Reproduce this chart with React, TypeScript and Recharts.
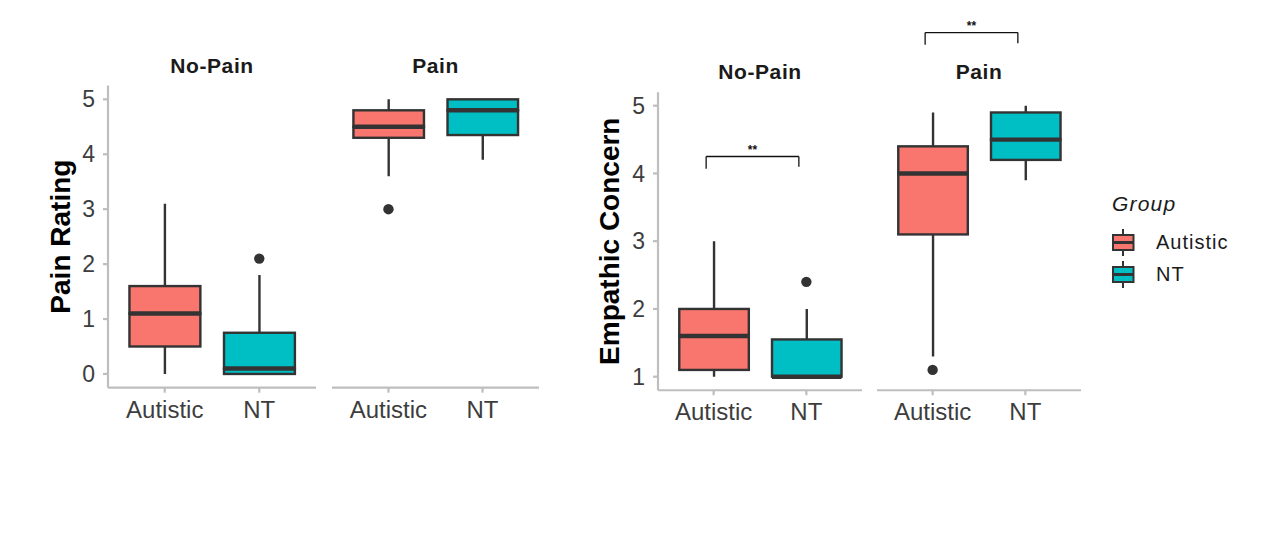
import React from "react";
import {
  ComposedChart,
  Bar,
  Scatter,
  XAxis,
  YAxis,
  Cell,
  ReferenceLine,
} from "recharts";

const groups = ["Autistic", "NT"];
const groupColors = ["#F8766D", "#00BFC4"];
const conditions = ["No-Pain", "Pain"];

// [lower whisker, Q1, median, Q3, upper whisker] per group
const painNoPain = [
  [0, 0.5, 1.1, 1.6, 3.1],
  [0, 0, 0.1, 0.75, 1.8],
];
const painPain = [
  [3.6, 4.3, 4.5, 4.8, 5],
  [3.9, 4.35, 4.8, 5, 5],
];
const painNoPainOutliers = [null, 2.1];
const painPainOutliers = [3.0, null];
const painTicks = [0, 1, 2, 3, 4, 5];

const empathyNoPain = [
  [1, 1.1, 1.6, 2, 3],
  [1, 1, 1, 1.55, 2],
];
const empathyPain = [
  [1.3, 3.1, 4, 4.4, 4.9],
  [3.9, 4.2, 4.5, 4.9, 5],
];
const empathyNoPainOutliers = [null, 2.4];
const empathyPainOutliers = [1.1, null];
const empathyTicks = [1, 2, 3, 4, 5];

// significance brackets: [left leg end, right leg end, bar height]
const empathyNoPainBracket = [4.07, 4.1, 4.25];
const empathyPainBracket = [5.9, 5.92, 6.08];
const bracketLabel = "**";

const FONT = '"Liberation Sans", Arial, sans-serif';
const INK = "#333333";
const AXIS = "#bebebe";
const TICK_INK = "#3d3d3d";
const BRACKET_DX = -7.5;

function toRows(stats: number[][], outliers: (number | null)[]) {
  return groups.map((g, i) => {
    const [lo, q1, med, q3, hi] = stats[i];
    return {
      group: g,
      base: lo,
      lowWhisker: q1 - lo,
      lowerBox: med - q1,
      upperBox: q3 - med,
      highWhisker: hi - q3,
      outlier: outliers[i],
    };
  });
}

const Nothing = () => <g />;

const Whisker = (p: any) => {
  const { x, y, width, height } = p;
  if (!height) return <g />;
  const cx = x + width / 2;
  return (
    <line x1={cx} x2={cx} y1={y} y2={y + height} stroke={INK} strokeWidth={2.4} />
  );
};

const LowerBox = (p: any) => {
  const { x, y, width, height, fill } = p;
  if (!height) return <g />;
  return (
    <rect x={x} y={y} width={width} height={height} fill={fill} stroke={INK} strokeWidth={2.4} />
  );
};

const UpperBox = (p: any) => {
  const { x, y, width, height, fill } = p;
  return (
    <g>
      <rect x={x} y={y} width={width} height={Math.max(height, 0)} fill={fill} stroke={INK} strokeWidth={2.4} />
      <line x1={x} x2={x + width} y1={y + height} y2={y + height} stroke={INK} strokeWidth={4.4} />
    </g>
  );
};

const Outlier = (p: any) => {
  if (p.payload == null || p.payload.outlier == null) return <g />;
  return <circle cx={p.cx} cy={p.cy} r={5.2} fill={INK} />;
};

const bracketLine = (label?: string) => (p: any) => (
  <g>
    <line
      x1={p.x1 + BRACKET_DX}
      y1={p.y1}
      x2={p.x2 + BRACKET_DX}
      y2={p.y2}
      stroke="#111"
      strokeWidth={1.3}
    />
    {label ? (
      <text
        x={(p.x1 + p.x2) / 2 + BRACKET_DX}
        y={p.y1 - 2.5}
        textAnchor="middle"
        fontSize={12}
        fontWeight="bold"
        fontFamily={FONT}
        fill="#111"
      >
        {label}
      </text>
    ) : null}
  </g>
);

type FacetProps = {
  stats: number[][];
  outliers: (number | null)[];
  left: number;
  top: number;
  plotWidth: number;
  plotHeight: number;
  marginTop: number;
  showY: boolean;
  domain: [number, number];
  ticks: number[];
  bracket?: number[];
};

const Y_W = 68;
const X_H = 50;

function Facet({
  stats,
  outliers,
  left,
  top,
  plotWidth,
  plotHeight,
  marginTop,
  showY,
  domain,
  ticks,
  bracket,
}: FacetProps) {
  const rows = toRows(stats, outliers);
  const yW = showY ? Y_W : 0;
  // ggplot discrete expansion: 0.6 units each side of 2 categories
  const pad = 2 * plotWidth * (0.6 / 2.2 - 0.25);
  const boxWidth = (0.75 * plotWidth) / 2.2;
  const axisStyle = { stroke: AXIS, strokeWidth: 2.2 };
  return (
    <div style={{ position: "absolute", left, top }}>
      <ComposedChart
        width={yW + plotWidth}
        height={marginTop + plotHeight + X_H}
        data={rows}
        margin={{ top: marginTop, right: 0, bottom: 0, left: 0 }}
      >
        <XAxis
          dataKey="group"
          type="category"
          padding={{ left: pad, right: pad }}
          height={X_H}
          interval={0}
          tickSize={5}
          tickMargin={8}
          axisLine={axisStyle}
          tickLine={axisStyle}
          tick={{ fontSize: 24, fill: TICK_INK, fontFamily: FONT }}
        />
        {showY ? (
          <YAxis
            type="number"
            width={Y_W}
            domain={domain}
            ticks={ticks}
            allowDataOverflow
            tickSize={5}
            tickMargin={8}
            axisLine={axisStyle}
            tickLine={axisStyle}
            tick={{ fontSize: 23, fill: TICK_INK, fontFamily: FONT }}
          />
        ) : (
          <YAxis type="number" hide domain={domain} ticks={ticks} allowDataOverflow />
        )}
        <Bar dataKey="base" stackId="box" barSize={boxWidth} shape={Nothing} isAnimationActive={false} />
        <Bar dataKey="lowWhisker" stackId="box" barSize={boxWidth} shape={Whisker} isAnimationActive={false} />
        <Bar dataKey="lowerBox" stackId="box" barSize={boxWidth} shape={LowerBox} isAnimationActive={false}>
          {rows.map((r, i) => (
            <Cell key={`lo-${i}`} fill={groupColors[i]} />
          ))}
        </Bar>
        <Bar dataKey="upperBox" stackId="box" barSize={boxWidth} shape={UpperBox} isAnimationActive={false}>
          {rows.map((r, i) => (
            <Cell key={`hi-${i}`} fill={groupColors[i]} />
          ))}
        </Bar>
        <Bar dataKey="highWhisker" stackId="box" barSize={boxWidth} shape={Whisker} isAnimationActive={false} />
        <Scatter dataKey="outlier" shape={Outlier} isAnimationActive={false} />
        {bracket ? (
          <ReferenceLine
            ifOverflow="visible"
            segment={[
              { x: groups[0], y: bracket[0] },
              { x: groups[0], y: bracket[2] },
            ]}
            shape={bracketLine()}
          />
        ) : null}
        {bracket ? (
          <ReferenceLine
            ifOverflow="visible"
            segment={[
              { x: groups[0], y: bracket[2] },
              { x: groups[1], y: bracket[2] },
            ]}
            shape={bracketLine(bracketLabel)}
          />
        ) : null}
        {bracket ? (
          <ReferenceLine
            ifOverflow="visible"
            segment={[
              { x: groups[1], y: bracket[2] },
              { x: groups[1], y: bracket[1] },
            ]}
            shape={bracketLine()}
          />
        ) : null}
      </ComposedChart>
    </div>
  );
}

// layout of the two panels
const leftPanel = { top: 40, marginTop: 45.6, plotHeight: 302.1, facets: [40, 332], widths: [208, 207] };
const rightPanel = { top: 10, marginTop: 82.15, plotHeight: 298.1, facets: [590, 877], widths: [204, 204] };

export default function App() {
  const stripCenters = (panel: typeof leftPanel) =>
    panel.facets.map((l, i) => (i === 0 ? l + Y_W : l) + panel.widths[i] / 2);
  const leftStrips = stripCenters(leftPanel);
  const rightStrips = stripCenters(rightPanel);
  const leftMid = leftPanel.top + leftPanel.marginTop + leftPanel.plotHeight / 2;
  const rightMid = rightPanel.top + rightPanel.marginTop + rightPanel.plotHeight / 2;

  return (
    <div
      style={{
        position: "absolute",
        left: 0,
        top: 0,
        width: 1269,
        height: 541,
        background: "#fff",
        overflow: "hidden",
      }}
    >
      <Facet
        stats={painNoPain}
        outliers={painNoPainOutliers}
        left={leftPanel.facets[0]}
        top={leftPanel.top}
        plotWidth={leftPanel.widths[0]}
        plotHeight={leftPanel.plotHeight}
        marginTop={leftPanel.marginTop}
        showY
        domain={[-0.25, 5.25]}
        ticks={painTicks}
      />
      <Facet
        stats={painPain}
        outliers={painPainOutliers}
        left={leftPanel.facets[1]}
        top={leftPanel.top}
        plotWidth={leftPanel.widths[1]}
        plotHeight={leftPanel.plotHeight}
        marginTop={leftPanel.marginTop}
        showY={false}
        domain={[-0.25, 5.25]}
        ticks={painTicks}
      />
      <Facet
        stats={empathyNoPain}
        outliers={empathyNoPainOutliers}
        left={rightPanel.facets[0]}
        top={rightPanel.top}
        plotWidth={rightPanel.widths[0]}
        plotHeight={rightPanel.plotHeight}
        marginTop={rightPanel.marginTop}
        showY
        domain={[0.8, 5.2]}
        ticks={empathyTicks}
        bracket={empathyNoPainBracket}
      />
      <Facet
        stats={empathyPain}
        outliers={empathyPainOutliers}
        left={rightPanel.facets[1]}
        top={rightPanel.top}
        plotWidth={rightPanel.widths[1]}
        plotHeight={rightPanel.plotHeight}
        marginTop={rightPanel.marginTop}
        showY={false}
        domain={[0.8, 5.2]}
        ticks={empathyTicks}
        bracket={empathyPainBracket}
      />

      <svg
        width={1269}
        height={541}
        style={{ position: "absolute", left: 0, top: 0, pointerEvents: "none" }}
        fontFamily={FONT}
      >
        {/* axis titles */}
        <text
          x={70.5}
          y={leftMid}
          transform={`rotate(-90, 70.5, ${leftMid})`}
          textAnchor="middle"
          fontSize={28}
          fontWeight="bold"
          fill="#000"
        >
          Pain Rating
        </text>
        <text
          x={619.5}
          y={rightMid}
          transform={`rotate(-90, 619.5, ${rightMid})`}
          textAnchor="middle"
          fontSize={28}
          fontWeight="bold"
          fill="#000"
        >
          Empathic Concern
        </text>

        {/* facet strips */}
        {conditions.map((c, i) => (
          <text
            key={`ls-${c}`}
            x={leftStrips[i]}
            y={72.7}
            textAnchor="middle"
            fontSize={21}
            fontWeight="bold"
            letterSpacing={0.6}
            fill="#1a1a1a"
          >
            {c}
          </text>
        ))}
        {conditions.map((c, i) => (
          <text
            key={`rs-${c}`}
            x={rightStrips[i]}
            y={79.3}
            textAnchor="middle"
            fontSize={21}
            fontWeight="bold"
            letterSpacing={0.6}
            fill="#1a1a1a"
          >
            {c}
          </text>
        ))}

        {/* legend */}
        <text x={1112} y={210.5} fontSize={21} fontStyle="italic" letterSpacing={1.2} fill="#1a1a1a">
          Group
        </text>
        {groups.map((g, i) => {
          const ky = 235 + i * 32;
          return (
            <g key={`lg-${g}`}>
              <line x1={1123} x2={1123} y1={ky - 6} y2={ky + 21} stroke={INK} strokeWidth={2} />
              <rect x={1113} y={ky} width={20.5} height={15} fill={groupColors[i]} stroke={INK} strokeWidth={2} />
              <line x1={1113} x2={1133.5} y1={ky + 7.5} y2={ky + 7.5} stroke={INK} strokeWidth={3} />
              <text x={1156} y={ky + 14} fontSize={20} letterSpacing={1} fill="#1a1a1a">
                {g}
              </text>
            </g>
          );
        })}
      </svg>
    </div>
  );
}
